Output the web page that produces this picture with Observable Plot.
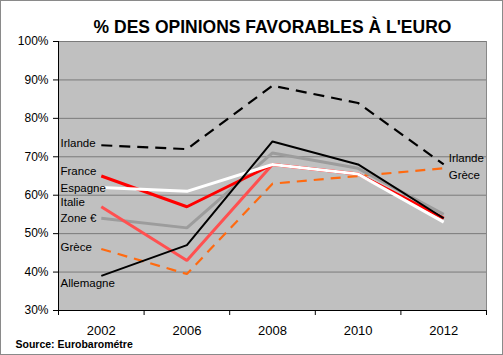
<!DOCTYPE html>
<html>
<head>
<meta charset="utf-8">
<script src="https://cdn.jsdelivr.net/npm/d3@7"></script>
<script src="https://cdn.jsdelivr.net/npm/@observablehq/plot@0.6"></script>
<style>
  html, body { margin: 0; padding: 0; background: #fff; }
  #chart svg { display: block; outline: 1px solid #8a8a8a; outline-offset: -1px; background: #fff; }
</style>
</head>
<body>
<div id="chart"></div>
<script>
const years = ["2002", "2006", "2008", "2010", "2012"];
const seriesNames = ["Grèce", "Zone €", "Italie", "France", "Espagne", "Allemagne", "Irlande"];
const irlande = [73, 72, 88.5, 84, 68];
const france = [65, 57, 68, 65.5, 54];
const espagne = [62, 61, 68, 65.5, 53];
const italie = [57, 43, 68, 65.5, 54];
const zoneEuro = [54, 51.5, 71, 67, 55];
const grece = [46, 39.5, 63, 65, 67];
const allemagne = [39, 47, 74, 68, 54];
const yTicks = [30, 40, 50, 60, 70, 80, 90, 100];
const title = "% DES OPINIONS FAVORABLES À L'EURO";
const source = "Source: Eurobarométre";

const valuesByName = {
  "Irlande": irlande, "France": france, "Espagne": espagne, "Italie": italie,
  "Zone €": zoneEuro, "Grèce": grece, "Allemagne": allemagne
};
const style = {
  "Irlande":   {stroke: "#000000", width: 2.2, dash: "11,7", dy: -2},
  "France":    {stroke: "#ff0000", width: 3,   dash: null,   dy: -5},
  "Espagne":   {stroke: "#ffffff", width: 3,   dash: null,   dy: 1},
  "Italie":    {stroke: "#ff5050", width: 3,   dash: null,   dy: -4},
  "Zone €":    {stroke: "#9c9c9c", width: 3,   dash: null,   dy: 0},
  "Grèce":     {stroke: "#ff6a10", width: 2.2, dash: "10,7", dy: -2},
  "Allemagne": {stroke: "#000000", width: 2,   dash: null,   dy: 7}
};
const rightLabels = [{name: "Irlande", dy: -6}, {name: "Grèce", dy: 7}];

const rows = seriesNames.flatMap(name =>
  valuesByName[name].map((v, i) => ({name, i, year: years[i], v})));
const firstPts = seriesNames.map(name => ({name, v: valuesByName[name][0]}));
const lastPts = rightLabels.map(d => ({...d, v: valuesByName[d.name][years.length - 1]}));

const idx = years.map((_, i) => i);
const bounds = [...idx.map(i => i - 0.5), years.length - 0.5];

const lineMarks = seriesNames.map(name => {
  const s = style[name];
  return Plot.line(rows.filter(r => r.name === name), {
    x: "i", y: "v", stroke: s.stroke, strokeWidth: s.width,
    strokeDasharray: s.dash, strokeLinejoin: "miter", strokeLinecap: "butt"
  });
});

const leftLabelMarks = seriesNames.map(name => Plot.text([firstPts.find(d => d.name === name)], {
  x: () => -0.5, y: "v", text: "name", textAnchor: "start", dx: 2, dy: style[name].dy,
  fill: "#000", fontSize: 11.5
}));
const rightLabelMarks = lastPts.map(d => Plot.text([d], {
  x: () => years.length - 1, y: "v", text: "name", textAnchor: "start", dx: 5, dy: d.dy,
  fill: "#000", fontSize: 11.5
}));

const chart = Plot.plot({
  width: 503,
  height: 355,
  marginTop: 41,
  marginBottom: 45,
  marginLeft: 58,
  marginRight: 17,
  style: {fontFamily: "'Liberation Sans', Arial, sans-serif", fontSize: "12px", background: "#fff", color: "#000"},
  x: {type: "linear", domain: [-0.5, years.length - 0.5]},
  y: {domain: [30, 100]},
  marks: [
    Plot.frame({fill: "#c0c0c0", stroke: "#888"}),
    Plot.ruleY(yTicks.filter(t => t > 30), {stroke: "#7a7a7a", strokeWidth: 1}),
    ...lineMarks,
    ...leftLabelMarks,
    ...rightLabelMarks,
    Plot.ruleX([-0.5], {stroke: "#000", strokeWidth: 1}),
    Plot.ruleY([30], {stroke: "#000", strokeWidth: 1}),
    Plot.axisY({ticks: yTicks, tickFormat: d => d + "%", tickSize: 5, tickPadding: 5, label: null, fontSize: 12}),
    Plot.axisX({ticks: bounds, tickFormat: () => "", tickSize: 5, label: null}),
    Plot.axisX({ticks: idx, tickFormat: i => years[i], tickSize: 0, tickPadding: 15, label: null, fontSize: 13}),
    Plot.text([title], {frameAnchor: "top", dy: -21, text: d => d, fontWeight: "bold", fontSize: 17.5, x: () => 2, fill: "#000"}),
    Plot.text([source], {frameAnchor: "bottom-left", dx: -43, dy: 37, text: d => d, fontWeight: "bold", fontSize: 10.5, textAnchor: "start", fill: "#000"})
  ]
});
document.getElementById("chart").appendChild(chart);
</script>
</body>
</html>
